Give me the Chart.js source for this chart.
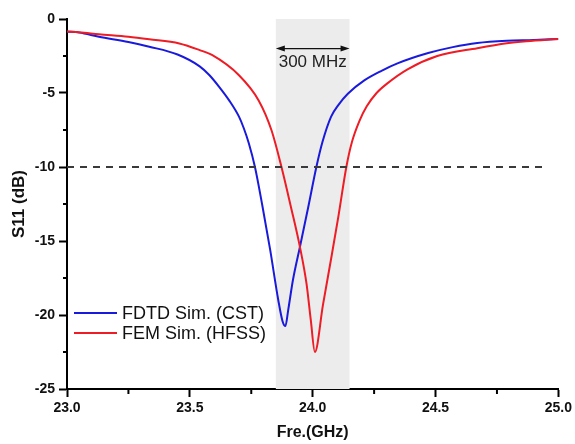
<!DOCTYPE html>
<html>
<head>
<meta charset="utf-8">
<script src="https://cdn.jsdelivr.net/npm/chart.js@4"></script>
<style>
html,body{margin:0;padding:0;background:#fff;}
#wrap{width:575px;height:444px;position:relative;}
</style>
</head>
<body>
<div id="wrap"><canvas id="c" width="575" height="444"></canvas></div>
<script>
// Frequencies (GHz) and S11 (dB)
const cstFreq = [23.0, 23.05, 23.13, 23.25, 23.335, 23.45, 23.54, 23.58, 23.62, 23.66, 23.70, 23.72, 23.74, 23.765, 23.795, 23.827, 23.86, 23.877, 23.889, 23.90, 23.92, 23.948, 23.982, 24.015, 24.04, 24.075, 24.105, 24.143, 24.21, 24.28, 24.345, 24.47, 24.57, 24.67, 24.79, 24.9, 25.0];
const cstS11 = [-0.85, -0.92, -1.2, -1.55, -1.87, -2.4, -3.2, -3.8, -4.6, -5.5, -6.6, -7.4, -8.4, -10.0, -12.6, -15.6, -19.0, -20.4, -20.75, -19.7, -17.6, -15.4, -12.7, -10.0, -8.3, -6.6, -5.8, -5.05, -4.15, -3.5, -3.0, -2.3, -1.9, -1.62, -1.47, -1.42, -1.35];

const hfssFreq = [23.0, 23.05, 23.13, 23.25, 23.335, 23.457, 23.54, 23.59, 23.70, 23.78, 23.832, 23.873, 23.91, 23.948, 23.975, 23.992, 24.009, 24.042, 24.075, 24.105, 24.137, 24.16, 24.19, 24.22, 24.26, 24.30, 24.386, 24.507, 24.67, 24.79, 24.87, 25.0];
const hfssS11 = [-0.85, -0.9, -1.03, -1.2, -1.37, -1.65, -2.1, -2.43, -3.8, -5.5, -7.5, -10.0, -12.6, -15.4, -17.9, -20.3, -22.5, -19.3, -16.2, -13.3, -10.0, -8.3, -6.9, -5.9, -5.0, -4.4, -3.4, -2.5, -1.97, -1.64, -1.5, -1.35];

const refFreq = [23.0, 24.95];
const refS11 = [-10, -10];

const bandFreq = [23.85, 24.15];   // shaded 300 MHz band
const bandLabel = '300 MHz';
const bandArrowDb = -2.0;
const bandLabelDb = -2.9;

const seriesNames = ['FDTD Sim. (CST)', 'FEM Sim. (HFSS)'];
const seriesColors = ['#1a1adc', '#ee1c24'];

const xMin = 23.0, xMax = 25.0, xStep = 0.25;
const yMin = -25, yMax = 0, yStep = 2.5;

function pts(xs, ys){ return xs.map((x,i)=>({x:x, y:ys[i]})); }

const FONT = '"Liberation Sans", Arial, sans-serif';

const bandPlugin = {
  id: 'band',
  beforeDatasetsDraw(chart){
    const {ctx, scales:{x, y}} = chart;
    const x0 = x.getPixelForValue(bandFreq[0]);
    const x1 = x.getPixelForValue(bandFreq[1]);
    const y0 = y.getPixelForValue(yMax);
    const y1 = y.getPixelForValue(yMin);
    ctx.save();
    ctx.fillStyle = '#ececec';
    ctx.fillRect(x0, y0, x1 - x0, y1 - y0);
    ctx.restore();
  },
  afterDatasetsDraw(chart){
    const {ctx, scales:{x, y}} = chart;
    const x0 = x.getPixelForValue(bandFreq[0]);
    const x1 = x.getPixelForValue(bandFreq[1]);
    const ya = y.getPixelForValue(bandArrowDb);
    ctx.save();
    ctx.strokeStyle = '#111';
    ctx.fillStyle = '#111';
    ctx.lineWidth = 1.2;
    ctx.beginPath();
    ctx.moveTo(x0 + 4, ya); ctx.lineTo(x1 - 4, ya); ctx.stroke();
    ctx.beginPath();
    ctx.moveTo(x0, ya); ctx.lineTo(x0 + 9, ya - 3); ctx.lineTo(x0 + 9, ya + 3); ctx.closePath(); ctx.fill();
    ctx.beginPath();
    ctx.moveTo(x1, ya); ctx.lineTo(x1 - 9, ya - 3); ctx.lineTo(x1 - 9, ya + 3); ctx.closePath(); ctx.fill();
    ctx.font = '17px ' + FONT;
    ctx.textAlign = 'center';
    ctx.textBaseline = 'middle';
    ctx.fillStyle = '#222';
    ctx.fillText(bandLabel, (x0 + x1) / 2, y.getPixelForValue(bandLabelDb));
    ctx.restore();

    // legend inside plot area
    ctx.save();
    ctx.font = '18px ' + FONT;
    ctx.textBaseline = 'middle';
    ctx.textAlign = 'left';
    const lx0 = 74, lx1 = 117, tx = 122;
    const rows = [313, 333];
    seriesNames.forEach((n, i) => {
      ctx.strokeStyle = seriesColors[i];
      ctx.lineWidth = 2;
      ctx.beginPath(); ctx.moveTo(lx0, rows[i]); ctx.lineTo(lx1, rows[i]); ctx.stroke();
      ctx.fillStyle = '#111';
      ctx.fillText(n, tx, rows[i] + 1);
    });
    ctx.restore();
  },
  afterDraw(chart){
    // minor ticks
    const {ctx, scales:{x, y}} = chart;
    ctx.save();
    ctx.strokeStyle = '#000';
    ctx.lineWidth = 2;
    const yb = y.getPixelForValue(yMin);
    for (let v = xMin; v <= xMax + 1e-9; v += xStep) {
      if (Math.abs(v * 2 - Math.round(v * 2)) > 1e-6) {
        const px = x.getPixelForValue(v);
        ctx.beginPath(); ctx.moveTo(px, yb); ctx.lineTo(px, yb + 5); ctx.stroke();
      }
    }
    const xl = x.getPixelForValue(xMin);
    for (let v = yMin; v <= yMax + 1e-9; v += yStep) {
      if (Math.abs(v / 5 - Math.round(v / 5)) > 1e-6) {
        const py = y.getPixelForValue(v);
        ctx.beginPath(); ctx.moveTo(xl, py); ctx.lineTo(xl - 4, py); ctx.stroke();
      }
    }
    ctx.restore();
  }
};

new Chart(document.getElementById('c'), {
  type: 'line',
  data: {
    datasets: [
      {
        label: 'ref', data: pts(refFreq, refS11),
        borderColor: '#3a3a3a', borderWidth: 2, borderDash: [7, 6],
        pointRadius: 0, tension: 0
      },
      {
        label: seriesNames[1], data: pts(hfssFreq, hfssS11),
        borderColor: seriesColors[1], borderWidth: 2,
        pointRadius: 0, cubicInterpolationMode: 'monotone'
      },
      {
        label: seriesNames[0], data: pts(cstFreq, cstS11),
        borderColor: seriesColors[0], borderWidth: 2,
        pointRadius: 0, cubicInterpolationMode: 'monotone'
      }
    ]
  },
  options: {
    responsive: false,
    animation: false,
    devicePixelRatio: 1,
    layout: { padding: { left: 0, right: 13, top: 19, bottom: 0 } },
    plugins: { legend: { display: false }, tooltip: { enabled: false } },
    scales: {
      x: {
        type: 'linear', min: xMin, max: xMax,
        afterFit(s){ s.height = 55; },
        border: { display: true, color: '#000', width: 2 },
        grid: {
          drawOnChartArea: false, drawTicks: true, tickLength: 8, tickWidth: 2,
          tickColor: (c) => (c.tick && Math.abs(c.tick.value * 2 - Math.round(c.tick.value * 2)) < 1e-6) ? '#000' : 'rgba(0,0,0,0)'
        },
        ticks: {
          stepSize: xStep, autoSkip: false, maxRotation: 0, padding: 3,
          color: '#111', font: { family: FONT, size: 14, weight: 'bold' },
          callback: (v) => (Math.abs(v * 2 - Math.round(v * 2)) < 1e-6) ? Number(v).toFixed(1) : ''
        },
        title: {
          display: true, text: 'Fre.(GHz)', color: '#111',
          font: { family: FONT, size: 16, weight: 'bold' },
          padding: { top: 0, bottom: 2 }
        }
      },
      y: {
        type: 'linear', min: yMin, max: yMax,
        afterFit(s){ s.width = 67; },
        border: { display: true, color: '#000', width: 2 },
        grid: {
          drawOnChartArea: false, drawTicks: true, tickLength: 8, tickWidth: 2,
          tickColor: (c) => (c.tick && Math.abs(c.tick.value / 5 - Math.round(c.tick.value / 5)) < 1e-6) ? '#000' : 'rgba(0,0,0,0)'
        },
        ticks: {
          stepSize: yStep, autoSkip: false, padding: 4,
          color: '#111', font: { family: FONT, size: 14, weight: 'bold' },
          callback: (v) => (Math.abs(v / 5 - Math.round(v / 5)) < 1e-6) ? String(Math.round(v)) : ''
        },
        title: {
          display: true, text: 'S11 (dB)', color: '#111',
          font: { family: FONT, size: 17, weight: 'bold' },
          padding: { top: 9, bottom: 0 }
        }
      }
    }
  },
  plugins: [bandPlugin]
});
</script>
</body>
</html>
